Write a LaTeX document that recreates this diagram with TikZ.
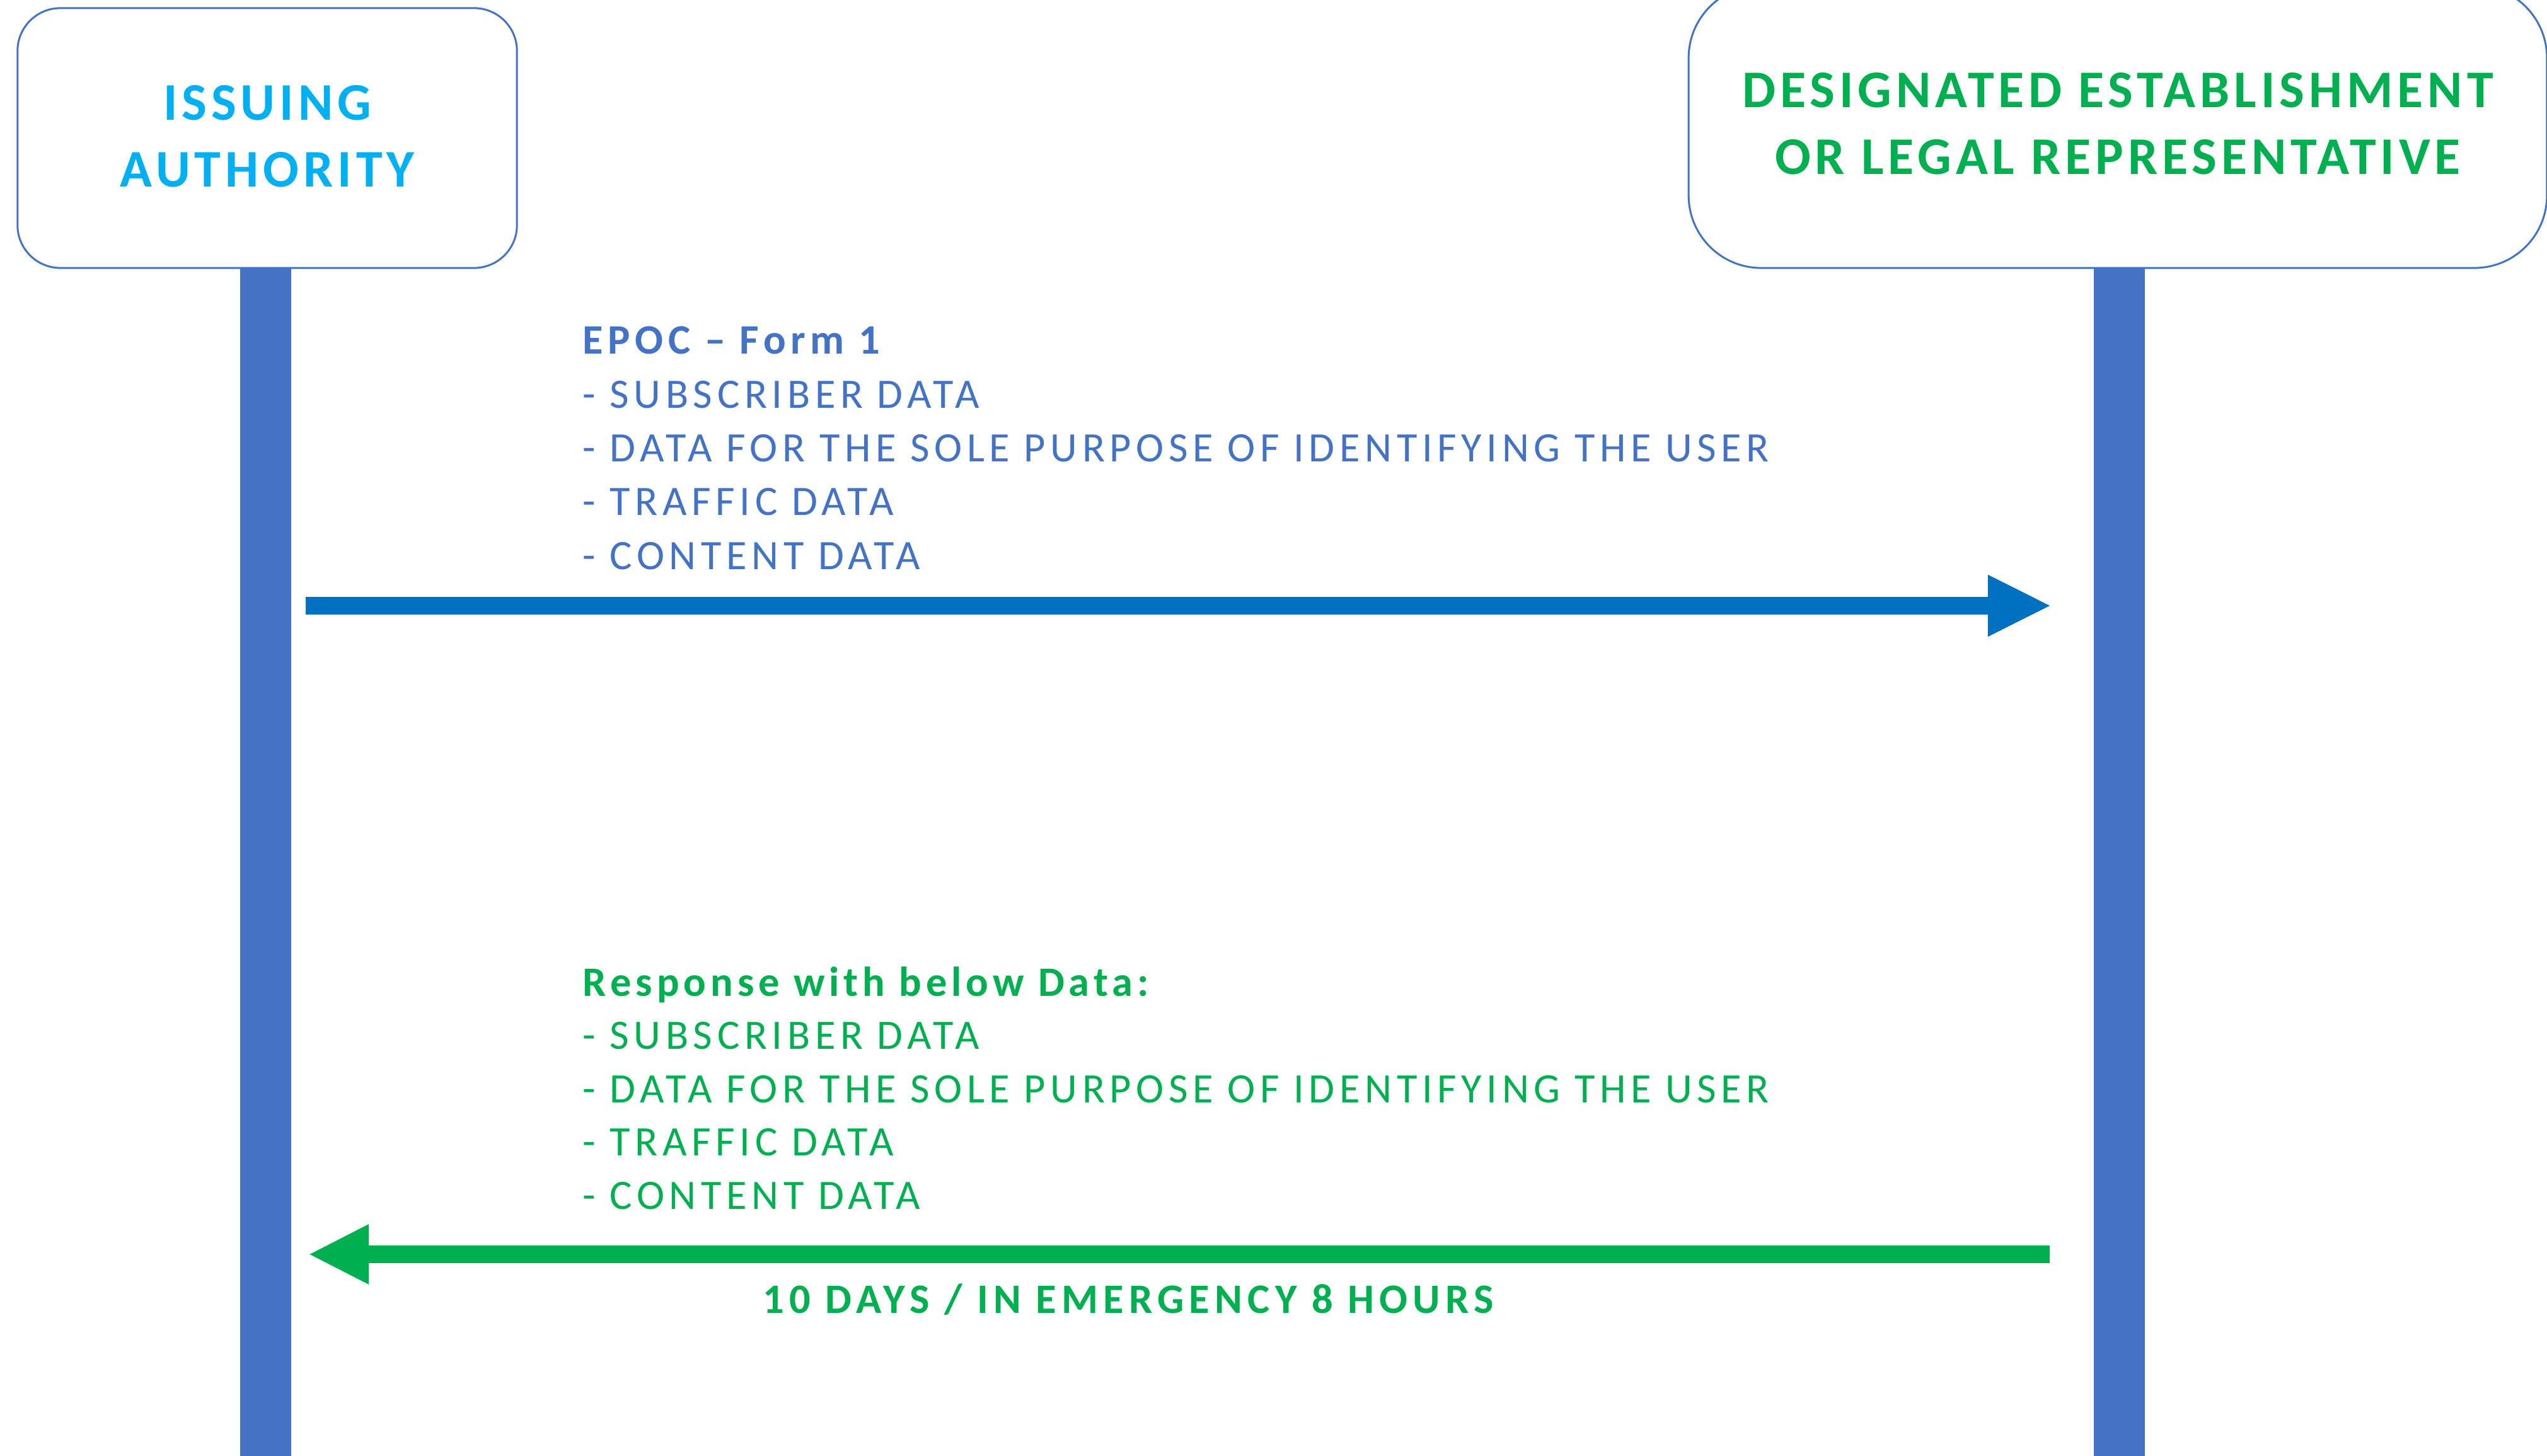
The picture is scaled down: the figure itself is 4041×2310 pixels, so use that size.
\documentclass[tikz,border=0pt]{standalone}
\usepackage{fontspec}
\setmainfont{Carlito}
\newfontfamily\listfont[LetterSpace=11.5]{Carlito}
\newfontfamily\respfont[LetterSpace=10.5]{Carlito}
\newfontfamily\timefont[LetterSpace=12.5]{Carlito}
\newfontfamily\boxfont[LetterSpace=8.3]{Carlito}
\usetikzlibrary{arrows.meta}
\definecolor{lifeblue}{HTML}{4472C4}
\definecolor{arrowblue}{HTML}{0070C0}
\definecolor{cyantext}{HTML}{00B0F0}
\definecolor{greentext}{HTML}{00B050}
\begin{document}
\begin{tikzpicture}[x=0.01cm,y=-0.01cm,
  actor/.style={draw=lifeblue, line width=0.03cm, fill=white, inner sep=0, align=center},
  lifeline/.style={fill=lifeblue, inner sep=0, minimum width=0.81cm, minimum height=18.9cm, anchor=north},
  msg/.style={inner sep=0, anchor=base west, font=\listfont\fontsize{18.9}{22}\selectfont},
  msghead/.style={msg, font=\listfont\bfseries\fontsize{18.9}{22}\selectfont},
  reqarrow/.style={draw=arrowblue, line width=0.27cm, -{Triangle[length=1.01cm, width=0.9cm]}},
  resarrow/.style={draw=greentext, line width=0.27cm, -{Triangle[length=0.96cm, width=0.88cm]}}
]
\useasboundingbox (0,0) rectangle (4041,2310);

% actors
\node[actor, rounded corners=0.68cm, minimum width=7.92cm, minimum height=4.12cm,
      text=cyantext, font=\boxfont\bfseries\fontsize{23.9}{30}\selectfont]
      (ia) at (424,219) {ISSUING\\AUTHORITY\\[-28.3pt]\mbox{}};
\node[actor, rounded corners=1.15cm, minimum width=13.61cm, minimum height=4.48cm,
      text=greentext, font=\boxfont\bfseries\fontsize{23.9}{30.2}\selectfont]
      (de) at (3360,201) {DESIGNATED ESTABLISHMENT\\OR LEGAL REPRESENTATIVE\\[-27.4pt]\mbox{}};

% lifelines
\node[lifeline] (ll) at (421.5,425) {};
\node[lifeline] (lr) at (3362.5,425) {};

% request
\node[msghead, text=lifeblue] (reqh) at (924,562) {EPOC – Form 1};
\foreach \t [count=\i] in {SUBSCRIBER DATA, DATA FOR THE SOLE PURPOSE OF IDENTIFYING THE USER, TRAFFIC DATA, CONTENT DATA}
  \node[msg, text=lifeblue] (req\i) at ({924},{562+85.3*\i}) {- \t};
\coordinate (reqS) at (485,961);
\coordinate (reqE) at (3255,961);
\draw[reqarrow] (reqS) -- (reqE);

% response
\node[msghead, text=greentext, font=\respfont\bfseries\fontsize{18.9}{22}\selectfont] (resh) at (924,1580) {Response with below Data:};
\foreach \t [count=\i] in {SUBSCRIBER DATA, DATA FOR THE SOLE PURPOSE OF IDENTIFYING THE USER, TRAFFIC DATA, CONTENT DATA}
  \node[msg, text=greentext] (res\i) at ({924},{1580+84.6*\i}) {- \t};
\coordinate (resS) at (3252,1990);
\coordinate (resE) at (489,1990);
\draw[resarrow] (resS) -- (resE);
\node[msghead, text=greentext, font=\timefont\bfseries\fontsize{18.9}{22}\selectfont] (time) at (1210,2083) {10 DAYS / IN EMERGENCY 8 HOURS};
\end{tikzpicture}
\end{document}
